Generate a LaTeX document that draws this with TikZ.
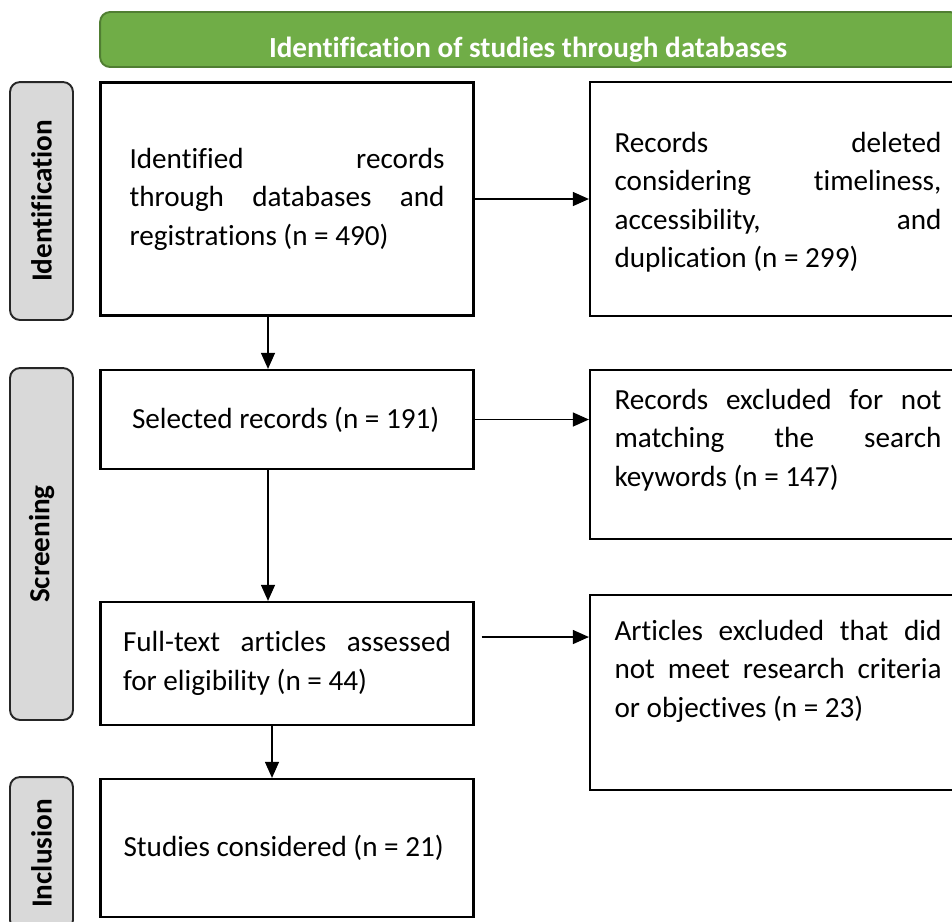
\documentclass[tikz,border=0pt]{standalone}
\usepackage{fontspec}
\setmainfont{Carlito}[Ligatures=NoCommon]
\usetikzlibrary{arrows.meta}
\definecolor{hdrgreen}{HTML}{70AD47}
\definecolor{hdrline}{HTML}{507E32}
\definecolor{phasegray}{HTML}{D9D9D9}
\tikzset{
  txt/.style={font=\fontsize{16.6}{21.9}\selectfont},
  box/.style={draw,line width=1.3pt,txt,align=justify,inner sep=0pt},
  phase/.style={draw=black!85,fill=phasegray,line width=1.1pt,rounded corners=0.2cm,rotate=90,minimum height=1.26cm,font=\fontsize{16.6}{20}\selectfont\bfseries},
  arr/.style={line width=0.7pt,-{Triangle[length=0.32cm,width=0.28cm]}}
}
\begin{document}
\begin{tikzpicture}[x=0.02cm,y=-0.02cm]
\useasboundingbox (0,0) rectangle (952,921);

%Header bar
\node[draw=hdrline,fill=hdrgreen,line width=1.1pt,rounded corners=0.2cm,minimum width=17.2cm,minimum height=1.1cm] (head) at (530,39.5) {};
\node[anchor=base,inner sep=0pt,text=white,font=\fontsize{16.6}{20}\selectfont\bfseries] (headtxt) at (528,57) {Identification of studies through databases};

%Phase labels - top to bottom
\foreach \n/\y/\h/\t in {ident/201/4.76cm/Identification,screen/544/7.04cm/Screening,incl/853.5/3.06cm/Inclusion}
  \node[phase,minimum width=\h] (\n) at (41.5,\y) {\t};

%Left column
\node[box,minimum width=7.46cm,minimum height=4.66cm,text width=6.3cm] (found) at (287,199) {Identified records\linebreak through databases and\linebreak registrations (n = 490)};
\node[box,minimum width=7.46cm,minimum height=1.98cm,text width=6.2cm] (select) at (287,419.5) {Selected records (n = 191)};
\node[box,minimum width=7.46cm,minimum height=2.46cm,text width=6.56cm] (full) at (287,663.5) {Full-text articles assessed\linebreak for eligibility (n = 44)};
\node[box,minimum width=7.46cm,minimum height=2.76cm,text width=6.54cm] (studies) at (287,848) {Studies considered (n = 21)};

%Right column - boxes, then their texts
\node[box,minimum width=7.4cm,minimum height=4.68cm] (deleted) at (775,199) {};
\node[box,minimum width=7.4cm,minimum height=3.38cm] (nokey) at (775,454.5) {};
\node[box,minimum width=7.4cm,minimum height=3.9cm] (nocrit) at (775,692.5) {};
\node[box,draw=none,text width=6.54cm] (deletedtxt) at (778,202) {Records deleted\linebreak considering timeliness,\linebreak accessibility, and\linebreak duplication (n = 299)};
\node[box,draw=none,text width=6.54cm] (nokeytxt) at (778,440) {Records excluded for not\linebreak matching the search\linebreak keywords (n = 147)};
\node[box,draw=none,text width=6.54cm] (nocrittxt) at (778,671) {Articles excluded that did\linebreak not meet research criteria\linebreak or objectives (n = 23)};

%Arrows
\draw[arr] ([xshift=-0.38cm]found.south) -- ([xshift=-0.38cm]select.north);
\draw[arr] ([xshift=-0.38cm]select.south) -- ([xshift=-0.38cm]full.north);
\draw[arr] ([xshift=-0.3cm]full.south) -- ([xshift=-0.3cm]studies.north);
\draw[arr] (found.east) -- (deleted.west);
\draw[arr] (select.east) -- (select.east -| nokey.west);
\coordinate (fullout) at ([yshift=0.53cm]full.east);
\draw[arr,shorten <=0.14cm] (fullout) -- (fullout -| nocrit.west);

\end{tikzpicture}
\end{document}
